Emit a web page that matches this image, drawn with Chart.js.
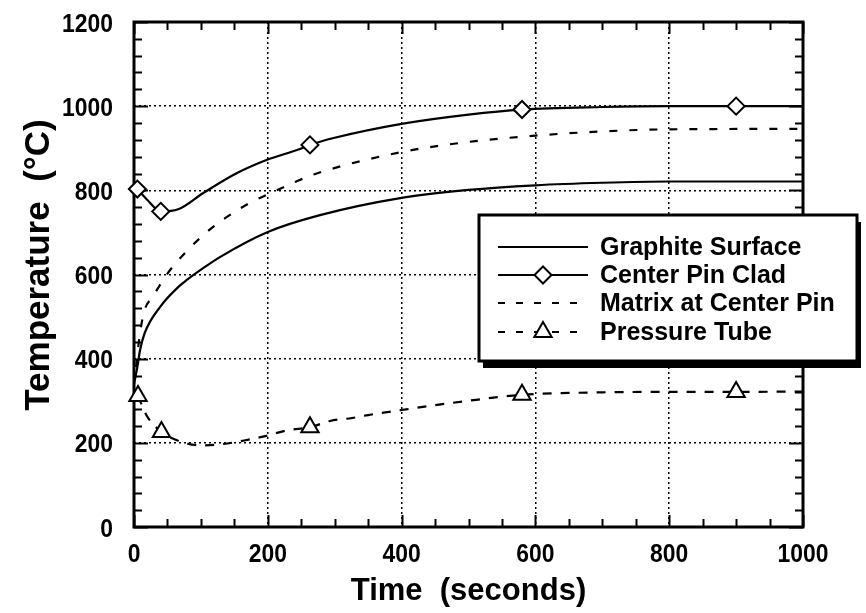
<!DOCTYPE html>
<html>
<head>
<meta charset="utf-8">
<script src="https://cdn.jsdelivr.net/npm/chart.js@4.4.1/dist/chart.umd.min.js"></script>
<style>
  html, body { margin: 0; padding: 0; background: #fff; }
  #c { display: block; }
</style>
</head>
<body>
<canvas id="c" width="866" height="613"></canvas>
<script>
// ---- data: temperature (°C) against time (s) ----
const seriesNames = ['Graphite Surface', 'Center Pin Clad', 'Matrix at Center Pin', 'Pressure Tube'];

const graphiteTime = [0, 5, 9, 16, 40, 66, 79, 106, 129, 200, 278, 400, 500, 600, 700, 800, 1000];
const graphiteTemp = [340, 380, 420, 461, 525, 570, 587, 618, 642, 701, 741, 782, 801, 812, 818, 821, 821];

const cladTime = [5, 20, 40, 66, 103, 154, 198, 248, 263, 300, 400, 500, 580, 700, 800, 900, 1000];
const cladTemp = [803, 777, 750, 755, 793, 841, 872, 898, 908, 925, 958, 980, 992, 998, 1000, 1000, 1000];
const cladMarkTime = [5, 40, 263, 580, 900];

const matrixTime = [3, 9, 16, 28, 49, 79, 109, 139, 173, 208, 241, 271, 400, 500, 600, 700, 800, 1000];
const matrixTemp = [380, 461, 516, 547, 600, 656, 701, 737, 770, 796, 820, 839, 891, 915, 930, 940, 945, 946];

const tubeTime = [6, 20, 41, 66, 100, 132, 163, 196, 230, 263, 293, 326, 350, 400, 500, 580, 700, 800, 900, 1000];
const tubeTemp = [311, 262, 226, 205, 194, 197, 205, 216, 230, 237, 252, 259, 266, 278, 300, 314, 320, 321, 321, 322];
const tubeMarkTime = [6, 41, 263, 580, 900];

// axis ranges, tick spacing and titles
const xRange = [0, 1000], yRange = [0, 1200];
const xTickStep = 200, yTickStep = 200;
const xMinorStep = 50, yMinorStep = 40;
const xTitle = 'Time  (seconds)';
const yTitle = 'Temperature  (°C)';

const toPoints = (t, v) => t.map((ti, i) => ({ x: ti, y: v[i] }));
const markRadius = (marks, r) => c => (c.raw && marks.includes(c.raw.x)) ? r : 0;

const MATRIX_DASH = [8, 12];
const TUBE_DASH = [9, 9];
const TEXT_FONT = "'Liberation Sans', Arial, Helvetica, sans-serif";

// frame with inward major/minor ticks on all four sides
const frameTicks = {
  id: 'frameTicks',
  beforeDatasetsDraw(chart) {
    const { ctx, chartArea: a, scales: { x, y } } = chart;
    ctx.save();
    ctx.strokeStyle = '#000';
    ctx.lineWidth = 2;
    ctx.beginPath();
    for (let v = x.min; v <= x.max; v += xMinorStep) {
      const px = Math.round(x.getPixelForValue(v)) + 0.5;
      const len = v % xTickStep === 0 ? 12 : 8;
      ctx.moveTo(px, a.bottom); ctx.lineTo(px, a.bottom - len);
      ctx.moveTo(px, a.top); ctx.lineTo(px, a.top + len);
    }
    for (let v = y.min; v <= y.max; v += yMinorStep) {
      const py = Math.round(y.getPixelForValue(v)) + 0.5;
      const len = v % yTickStep === 0 ? 14 : 8;
      ctx.moveTo(a.left, py); ctx.lineTo(a.left + len, py);
      ctx.moveTo(a.right, py); ctx.lineTo(a.right - len, py);
    }
    ctx.stroke();
    ctx.lineWidth = 3;
    ctx.strokeRect(a.left, a.top, a.right - a.left, a.bottom - a.top);
    ctx.restore();
  }
};

// narrow bold tick numbers and the two axis titles
const axisText = {
  id: 'axisText',
  afterDraw(chart) {
    const { ctx, chartArea: a, scales: { x, y } } = chart;
    const squeeze = 0.88;
    ctx.save();
    ctx.fillStyle = '#000';
    ctx.font = 'bold 26px ' + TEXT_FONT;
    ctx.textBaseline = 'alphabetic';
    x.ticks.forEach(t => {
      const px = x.getPixelForValue(t.value);
      ctx.save();
      ctx.translate(px, a.bottom + 35);
      ctx.scale(squeeze, 1);
      ctx.textAlign = 'center';
      ctx.fillText(String(t.value), 0, 0);
      ctx.restore();
    });
    y.ticks.forEach(t => {
      const py = y.getPixelForValue(t.value);
      ctx.save();
      ctx.translate(a.left - 21, py + 9.5);
      ctx.scale(squeeze, 1);
      ctx.textAlign = 'right';
      ctx.fillText(String(t.value), 0, 0);
      ctx.restore();
    });

    ctx.textAlign = 'center';
    ctx.textBaseline = 'middle';
    ctx.font = 'bold 31px ' + TEXT_FONT;
    ctx.fillText(xTitle, (a.left + a.right) / 2, 591);
    ctx.save();
    ctx.translate(39, 265);
    ctx.rotate(-Math.PI / 2);
    ctx.font = 'bold 35px ' + TEXT_FONT;
    ctx.fillText(yTitle, 0, 0);
    ctx.restore();
    ctx.restore();
  }
};

// boxed legend with drop shadow, line samples and markers
const boxLegend = {
  id: 'boxLegend',
  afterDraw(chart) {
    const { ctx } = chart;
    const bx = 479, by = 215, bw = 378, bh = 146;
    ctx.save();
    ctx.fillStyle = '#000';
    ctx.fillRect(bx + 4, by + 7, bw, bh);
    ctx.fillStyle = '#fff';
    ctx.fillRect(bx, by, bw, bh);
    ctx.lineWidth = 3;
    ctx.strokeStyle = '#000';
    ctx.strokeRect(bx, by, bw, bh);

    const rows = [247, 275, 303, 332];
    const x0 = 498, x1 = 588;
    chart.data.datasets.forEach((ds, i) => {
      const yy = rows[i];
      ctx.save();
      ctx.lineWidth = 2;
      ctx.strokeStyle = '#000';
      ctx.setLineDash(ds.borderDash ? [7, 11] : []);
      ctx.beginPath();
      ctx.moveTo(x0, yy); ctx.lineTo(x1, yy);
      ctx.stroke();
      ctx.restore();
      if (ds.legendMarker) {
        ctx.save();
        ctx.fillStyle = '#fff'; ctx.strokeStyle = '#000'; ctx.lineWidth = 2;
        Chart.helpers.drawPoint(ctx, { pointStyle: ds.pointStyle, radius: ds.legendMarker, rotation: 0, borderWidth: 2 }, (x0 + x1) / 2, yy);
        ctx.restore();
      }
      ctx.fillStyle = '#000';
      ctx.font = 'bold 25px ' + TEXT_FONT;
      ctx.textBaseline = 'middle';
      ctx.textAlign = 'left';
      ctx.fillText(ds.label, 600, yy + 1);
    });
    ctx.restore();
  }
};

const common = {
  borderColor: '#000',
  borderWidth: 2.2,
  pointBackgroundColor: '#fff',
  pointBorderColor: '#000',
  pointBorderWidth: 2,
  pointHoverRadius: 0,
  fill: false,
  cubicInterpolationMode: 'monotone',
  clip: false
};

new Chart(document.getElementById('c'), {
  type: 'line',
  data: {
    datasets: [
      Object.assign({}, common, {
        label: seriesNames[0],
        data: toPoints(graphiteTime, graphiteTemp),
        pointRadius: 0
      }),
      Object.assign({}, common, {
        label: seriesNames[1],
        data: toPoints(cladTime, cladTemp),
        pointStyle: 'rectRot',
        pointRadius: markRadius(cladMarkTime, 8.5),
        legendMarker: 8.5
      }),
      Object.assign({}, common, {
        label: seriesNames[2],
        data: toPoints(matrixTime, matrixTemp),
        borderDash: MATRIX_DASH,
        pointRadius: 0
      }),
      Object.assign({}, common, {
        label: seriesNames[3],
        data: toPoints(tubeTime, tubeTemp),
        borderDash: TUBE_DASH,
        pointStyle: 'triangle',
        pointRadius: markRadius(tubeMarkTime, 10),
        legendMarker: 10
      })
    ]
  },
  options: {
    responsive: false,
    animation: false,
    devicePixelRatio: 1,
    layout: { padding: { top: 22, right: 63, bottom: 0, left: 0 } },
    plugins: { legend: { display: false }, tooltip: { enabled: false } },
    scales: {
      x: {
        type: 'linear',
        min: xRange[0], max: xRange[1],
        afterFit: s => { s.height = 86; },
        ticks: { stepSize: xTickStep, autoSkip: false, display: false },
        grid: {
          drawTicks: false, lineWidth: 1.5,
          color: c => (c.tick && c.tick.value > xRange[0] && c.tick.value < xRange[1]) ? '#000' : 'rgba(0,0,0,0)'
        },
        border: { display: false, dash: [2, 3] }
      },
      y: {
        type: 'linear',
        min: yRange[0], max: yRange[1],
        afterFit: s => { s.width = 134; },
        ticks: { stepSize: yTickStep, autoSkip: false, display: false },
        grid: {
          drawTicks: false, lineWidth: 1.5,
          color: c => (c.tick && c.tick.value > yRange[0] && c.tick.value < yRange[1]) ? '#000' : 'rgba(0,0,0,0)'
        },
        border: { display: false, dash: [2, 3] }
      }
    }
  },
  plugins: [frameTicks, axisText, boxLegend]
});
</script>
</body>
</html>
